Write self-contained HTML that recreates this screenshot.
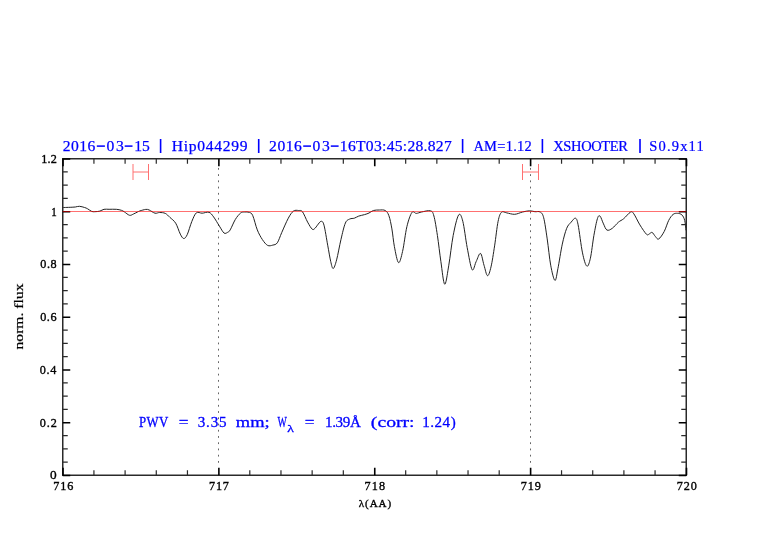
<!DOCTYPE html>
<html><head><meta charset="utf-8"><style>
html,body{margin:0;padding:0;background:#fff;}
svg{display:block;will-change:transform;}
text{font-variant-ligatures:none;}
</style></head><body>
<svg width="782" height="542" viewBox="0 0 782 542">
<rect width="782" height="542" fill="#fff"/>
<text x="62.70" y="150.55" textLength="32.65" lengthAdjust="spacing" font-family='"Liberation Serif", serif' font-size="15.6" fill="#0000ff" stroke="#0000ff" stroke-width="0.25">2016</text>
<text x="106.50" y="150.55" textLength="17.30" lengthAdjust="spacing" font-family='"Liberation Serif", serif' font-size="15.6" fill="#0000ff" stroke="#0000ff" stroke-width="0.25">03</text>
<text x="134.15" y="150.55" textLength="15.55" lengthAdjust="spacing" font-family='"Liberation Serif", serif' font-size="15.6" fill="#0000ff" stroke="#0000ff" stroke-width="0.25">15</text>
<text x="171.75" y="150.55" textLength="75.75" lengthAdjust="spacing" font-family='"Liberation Serif", serif' font-size="15.6" fill="#0000ff" stroke="#0000ff" stroke-width="0.25">Hip044299</text>
<text x="269.10" y="150.55" textLength="32.75" lengthAdjust="spacing" font-family='"Liberation Serif", serif' font-size="15.6" fill="#0000ff" stroke="#0000ff" stroke-width="0.25">2016</text>
<text x="312.60" y="150.55" textLength="17.30" lengthAdjust="spacing" font-family='"Liberation Serif", serif' font-size="15.6" fill="#0000ff" stroke="#0000ff" stroke-width="0.25">03</text>
<text x="339.85" y="150.55" textLength="111.90" lengthAdjust="spacing" font-family='"Liberation Serif", serif' font-size="15.6" fill="#0000ff" stroke="#0000ff" stroke-width="0.25">16T03:45:28.827</text>
<text transform="translate(473.40,150.55) scale(0.93,1)" x="0" y="0" textLength="62.74" lengthAdjust="spacing" font-family='"Liberation Serif", serif' font-size="15.6" fill="#0000ff" stroke="#0000ff" stroke-width="0.25">AM=1.12</text>
<text transform="translate(553.25,150.55) scale(0.93,1)" x="0" y="0" textLength="80.38" lengthAdjust="spacing" font-family='"Liberation Serif", serif' font-size="15.6" fill="#0000ff" stroke="#0000ff" stroke-width="0.25">XSHOOTER</text>
<text transform="translate(649.25,150.55) scale(0.93,1)" x="0" y="0" textLength="58.60" lengthAdjust="spacing" font-family='"Liberation Serif", serif' font-size="15.6" fill="#0000ff" stroke="#0000ff" stroke-width="0.25">S0.9x11</text>
<text x="41.30" y="162.95" textLength="15.50" lengthAdjust="spacing" font-family='"Liberation Serif", serif' font-size="12.2" fill="#000000" stroke="#000000" stroke-width="0.35">1.2</text>
<text transform="translate(51.15,215.70) scale(0.902,1)" x="0" y="0" font-family='"Liberation Serif", serif' font-size="12.2" fill="#000000" stroke="#000000" stroke-width="0.35">1</text>
<text x="40.25" y="268.45" textLength="16.30" lengthAdjust="spacing" font-family='"Liberation Serif", serif' font-size="12.2" fill="#000000" stroke="#000000" stroke-width="0.35">0.8</text>
<text x="40.15" y="321.20" textLength="16.40" lengthAdjust="spacing" font-family='"Liberation Serif", serif' font-size="12.2" fill="#000000" stroke="#000000" stroke-width="0.35">0.6</text>
<text x="39.75" y="373.95" textLength="16.55" lengthAdjust="spacing" font-family='"Liberation Serif", serif' font-size="12.2" fill="#000000" stroke="#000000" stroke-width="0.35">0.4</text>
<text x="39.75" y="426.70" textLength="17.05" lengthAdjust="spacing" font-family='"Liberation Serif", serif' font-size="12.2" fill="#000000" stroke="#000000" stroke-width="0.35">0.2</text>
<text transform="translate(49.95,479.45) scale(1.092,1)" x="0" y="0" font-family='"Liberation Serif", serif' font-size="12.2" fill="#000000" stroke="#000000" stroke-width="0.35">0</text>
<text x="53.25" y="490.25" textLength="20.00" lengthAdjust="spacing" font-family='"Liberation Serif", serif' font-size="12.2" fill="#000000" stroke="#000000" stroke-width="0.35">716</text>
<text x="209.05" y="490.25" textLength="19.80" lengthAdjust="spacing" font-family='"Liberation Serif", serif' font-size="12.2" fill="#000000" stroke="#000000" stroke-width="0.35">717</text>
<text x="364.45" y="490.25" textLength="20.70" lengthAdjust="spacing" font-family='"Liberation Serif", serif' font-size="12.2" fill="#000000" stroke="#000000" stroke-width="0.35">718</text>
<text x="520.75" y="490.25" textLength="20.20" lengthAdjust="spacing" font-family='"Liberation Serif", serif' font-size="12.2" fill="#000000" stroke="#000000" stroke-width="0.35">719</text>
<text x="676.75" y="490.25" textLength="20.20" lengthAdjust="spacing" font-family='"Liberation Serif", serif' font-size="12.2" fill="#000000" stroke="#000000" stroke-width="0.35">720</text>
<text x="358.80" y="506.55" textLength="32.25" lengthAdjust="spacing" font-family='"Liberation Serif", serif' font-size="11" fill="#000000" stroke="#000000" stroke-width="0.35">λ(AA)</text>
<text transform="translate(138.95,427.40) scale(0.85,1)" x="0" y="0" textLength="34.41" lengthAdjust="spacing" font-family='"Liberation Serif", serif' font-size="15.1" fill="#0000ff" stroke="#0000ff" stroke-width="0.3">PWV</text>
<text transform="translate(178.75,427.40) scale(1.140,1)" x="0" y="0" font-family='"Liberation Serif", serif' font-size="15.1" fill="#0000ff" stroke="#0000ff" stroke-width="0.3">=</text>
<text x="197.80" y="427.40" textLength="28.70" lengthAdjust="spacing" font-family='"Liberation Serif", serif' font-size="15.1" fill="#0000ff" stroke="#0000ff" stroke-width="0.3">3.35</text>
<text x="235.85" y="427.40" textLength="33.80" lengthAdjust="spacingAndGlyphs" font-family='"Liberation Serif", serif' font-size="15.1" fill="#0000ff" stroke="#0000ff" stroke-width="0.3">mm;</text>
<text transform="translate(277.60,427.40) scale(0.656,1)" x="0" y="0" font-family='"Liberation Serif", serif' font-size="15.1" fill="#0000ff" stroke="#0000ff" stroke-width="0.3">W</text>
<text transform="translate(304.65,427.40) scale(1.141,1)" x="0" y="0" font-family='"Liberation Serif", serif' font-size="15.1" fill="#0000ff" stroke="#0000ff" stroke-width="0.3">=</text>
<text x="325.05" y="427.40" textLength="35.75" lengthAdjust="spacing" font-family='"Liberation Serif", serif' font-size="15.1" fill="#0000ff" stroke="#0000ff" stroke-width="0.3">1.39Å</text>
<text x="370.85" y="427.40" textLength="43.75" lengthAdjust="spacingAndGlyphs" font-family='"Liberation Serif", serif' font-size="15.1" fill="#0000ff" stroke="#0000ff" stroke-width="0.3">(corr:</text>
<text x="422.25" y="427.40" textLength="33.45" lengthAdjust="spacing" font-family='"Liberation Serif", serif' font-size="15.1" fill="#0000ff" stroke="#0000ff" stroke-width="0.3">1.24)</text>
<text transform="translate(287.25,431.50) scale(1.302,1)" x="0" y="0" font-family='"Liberation Serif", serif' font-size="10.5" fill="#0000ff" stroke="#0000ff" stroke-width="0.3">λ</text>
<rect x="159.80" y="139" width="1.6" height="14" fill="#0000ff"/><rect x="257.90" y="139" width="1.6" height="14" fill="#0000ff"/><rect x="461.80" y="139" width="1.6" height="14" fill="#0000ff"/><rect x="541.60" y="139" width="1.6" height="14" fill="#0000ff"/><rect x="639.20" y="139" width="1.6" height="14" fill="#0000ff"/><rect x="96.8" y="145.35" width="8.10" height="1.5" fill="#0000ff"/><rect x="124.7" y="145.35" width="7.80" height="1.5" fill="#0000ff"/><rect x="303.2" y="145.35" width="7.80" height="1.5" fill="#0000ff"/><rect x="330.8" y="145.35" width="7.80" height="1.5" fill="#0000ff"/>
<path d="M133,164v16M148.5,164v16M133,172h15.5M522.5,164v16M538.5,164v16M522.5,172h16" fill="none" stroke-width="1" stroke="#ff7070"/>
<g stroke="#666" stroke-width="1" stroke-dasharray="1.8 4.435">
<line x1="218.5" y1="167.95" x2="218.5" y2="463"/>
<line x1="530.5" y1="167.95" x2="530.5" y2="463"/>
</g>
<path d="M62.50,207.60 C62.77,207.58 62.82,207.55 64.10,207.50 C65.38,207.45 68.33,207.38 70.20,207.30 C72.07,207.22 73.77,207.17 75.30,207.00 C76.83,206.83 77.85,206.22 79.40,206.30 C80.95,206.38 83.23,207.08 84.60,207.50 C85.97,207.92 86.42,208.15 87.60,208.80 C88.78,209.45 90.50,210.92 91.70,211.40 C92.90,211.88 93.43,211.75 94.80,211.70 C96.17,211.65 98.37,211.50 99.90,211.10 C101.43,210.70 102.47,209.60 104.00,209.30 C105.53,209.00 107.05,209.30 109.10,209.30 C111.15,209.30 114.25,209.13 116.30,209.30 C118.35,209.47 120.05,209.87 121.40,210.30 C122.75,210.73 123.03,211.07 124.40,211.90 C125.77,212.73 128.05,214.97 129.60,215.30 C131.15,215.63 132.35,214.47 133.70,213.90 C135.05,213.33 136.65,212.40 137.70,211.90 C138.75,211.40 138.66,211.32 140.00,210.90 C141.34,210.48 144.22,209.55 145.75,209.40 C147.28,209.25 147.66,209.37 149.20,210.00 C150.74,210.63 153.27,212.78 155.00,213.20 C156.73,213.62 157.88,212.47 159.60,212.50 C161.32,212.53 163.58,212.58 165.30,213.40 C167.02,214.22 168.17,215.77 169.90,217.40 C171.63,219.03 173.97,220.42 175.70,223.20 C177.43,225.98 178.97,231.55 180.30,234.10 C181.63,236.65 182.55,238.40 183.70,238.50 C184.85,238.60 185.85,237.53 187.20,234.70 C188.55,231.87 190.27,225.15 191.80,221.50 C193.33,217.85 194.68,214.18 196.40,212.80 C198.12,211.42 200.00,213.28 202.10,213.20 C204.20,213.12 207.08,211.68 209.00,212.30 C210.92,212.92 211.87,214.60 213.60,216.90 C215.33,219.20 217.67,223.42 219.40,226.10 C221.13,228.78 222.65,231.95 224.00,233.00 C225.35,234.05 226.47,232.92 227.50,232.40 C228.53,231.88 228.90,232.05 230.20,229.90 C231.50,227.75 233.58,222.30 235.30,219.50 C237.02,216.70 238.98,214.35 240.50,213.10 C242.02,211.85 242.90,212.12 244.40,212.00 C245.90,211.88 248.10,211.78 249.50,212.40 C250.90,213.02 251.50,212.78 252.80,215.70 C254.10,218.62 255.70,225.92 257.30,229.90 C258.90,233.88 260.68,237.02 262.40,239.60 C264.12,242.18 265.87,244.48 267.60,245.40 C269.33,246.32 271.18,245.53 272.80,245.10 C274.42,244.67 275.80,244.92 277.30,242.80 C278.80,240.68 279.97,236.50 281.80,232.40 C283.63,228.30 286.37,221.75 288.30,218.20 C290.23,214.65 291.68,212.38 293.40,211.10 C295.12,209.82 297.08,210.38 298.60,210.50 C300.12,210.62 301.00,209.87 302.50,211.80 C304.00,213.73 305.98,219.20 307.60,222.10 C309.22,225.00 310.97,228.17 312.20,229.20 C313.43,230.23 314.13,228.97 315.00,228.30 C315.87,227.63 316.38,226.37 317.40,225.20 C318.42,224.03 320.00,221.30 321.10,221.30 C322.20,221.30 322.90,221.22 324.00,225.20 C325.10,229.18 326.58,239.17 327.70,245.20 C328.82,251.23 329.78,257.52 330.70,261.40 C331.62,265.28 332.22,268.75 333.20,268.50 C334.18,268.25 335.30,264.77 336.60,259.90 C337.90,255.03 339.53,245.45 341.00,239.30 C342.47,233.15 343.93,226.38 345.40,223.00 C346.87,219.62 348.32,219.80 349.80,219.00 C351.28,218.20 352.82,218.68 354.30,218.20 C355.78,217.72 356.98,216.70 358.70,216.10 C360.42,215.50 362.88,215.12 364.60,214.60 C366.32,214.08 367.53,213.68 369.00,213.00 C370.47,212.32 371.68,211.00 373.40,210.50 C375.12,210.00 377.33,210.00 379.30,210.00 C381.27,210.00 383.60,209.55 385.20,210.50 C386.80,211.45 387.78,212.63 388.90,215.70 C390.02,218.77 390.98,223.75 391.90,228.90 C392.82,234.05 393.30,240.98 394.40,246.60 C395.50,252.22 397.13,261.82 398.50,262.60 C399.87,263.38 401.20,257.30 402.60,251.30 C404.00,245.30 405.35,233.07 406.90,226.60 C408.45,220.13 410.33,214.70 411.90,212.50 C413.47,210.30 414.68,213.48 416.30,213.40 C417.92,213.32 419.25,212.43 421.60,212.00 C423.95,211.57 428.35,210.13 430.40,210.80 C432.45,211.47 432.73,211.90 433.90,216.00 C435.07,220.10 436.23,227.78 437.40,235.40 C438.57,243.02 439.68,253.57 440.90,261.70 C442.12,269.83 443.38,283.62 444.70,284.20 C446.02,284.78 447.38,273.33 448.80,265.20 C450.22,257.07 451.57,243.77 453.20,235.40 C454.83,227.03 457.00,217.35 458.60,215.00 C460.20,212.65 461.37,215.87 462.80,221.30 C464.23,226.73 465.65,239.55 467.20,247.60 C468.75,255.65 470.62,267.25 472.10,269.60 C473.58,271.95 474.70,264.40 476.10,261.70 C477.50,259.00 479.18,252.82 480.50,253.40 C481.82,253.98 482.83,261.48 484.00,265.20 C485.17,268.92 486.33,275.42 487.50,275.70 C488.67,275.98 489.82,271.87 491.00,266.90 C492.18,261.93 493.42,253.50 494.60,245.90 C495.78,238.30 496.93,226.92 498.10,221.30 C499.27,215.68 500.15,213.60 501.60,212.20 C503.05,210.80 504.62,212.55 506.80,212.90 C508.98,213.25 512.07,214.45 514.70,214.30 C517.33,214.15 520.12,212.58 522.60,212.00 C525.08,211.42 527.55,210.85 529.60,210.80 C531.65,210.75 533.13,211.50 534.90,211.70 C536.67,211.90 538.73,210.98 540.20,212.00 C541.67,213.02 542.53,213.32 543.70,217.80 C544.87,222.28 546.03,231.00 547.20,238.90 C548.37,246.80 549.42,258.28 550.70,265.20 C551.98,272.12 553.70,279.82 554.90,280.40 C556.10,280.98 556.67,274.75 557.90,268.70 C559.13,262.65 560.83,250.83 562.30,244.10 C563.77,237.37 565.23,231.95 566.70,228.30 C568.17,224.65 569.65,223.88 571.10,222.20 C572.55,220.52 574.23,217.77 575.40,218.20 C576.57,218.63 576.92,219.02 578.10,224.80 C579.28,230.58 581.05,246.02 582.50,252.90 C583.95,259.78 585.48,265.22 586.80,266.10 C588.12,266.98 589.22,263.32 590.40,258.20 C591.58,253.08 592.73,241.98 593.90,235.40 C595.07,228.82 596.38,221.92 597.40,218.70 C598.42,215.48 598.98,215.23 600.00,216.10 C601.02,216.97 602.33,221.57 603.50,223.90 C604.67,226.23 605.53,229.37 607.00,230.10 C608.47,230.83 610.40,229.62 612.30,228.30 C614.20,226.98 616.50,223.80 618.40,222.20 C620.30,220.60 621.68,220.38 623.70,218.70 C625.72,217.02 628.82,212.92 630.50,212.10 C632.18,211.28 632.23,211.67 633.80,213.80 C635.37,215.93 637.78,221.48 639.90,224.90 C642.02,228.32 644.93,232.80 646.50,234.30 C648.07,235.80 648.37,234.22 649.30,233.90 C650.23,233.58 651.08,231.97 652.10,232.40 C653.12,232.83 654.30,235.40 655.40,236.50 C656.50,237.60 657.23,239.83 658.70,239.00 C660.17,238.17 662.53,234.60 664.20,231.50 C665.87,228.40 667.22,223.25 668.70,220.40 C670.18,217.55 671.63,215.58 673.10,214.40 C674.57,213.22 676.03,213.22 677.50,213.30 C678.97,213.38 680.70,213.72 681.90,214.90 C683.10,216.08 684.02,217.82 684.70,220.40 C685.38,222.98 685.78,228.73 686.00,230.40" fill="none" stroke="#222" stroke-width="1"/>
<rect x="62.75" y="158.75" width="623.5" height="316.5" fill="none" stroke="#2a2a2a" stroke-width="1.5"/>
<path d="M93.93,475.25v-5M93.93,158.75v5M125.10,475.25v-5M125.10,158.75v5M156.28,475.25v-5M156.28,158.75v5M187.45,475.25v-5M187.45,158.75v5M249.80,475.25v-5M249.80,158.75v5M280.97,475.25v-5M280.97,158.75v5M312.15,475.25v-5M312.15,158.75v5M343.32,475.25v-5M343.32,158.75v5M405.68,475.25v-5M405.68,158.75v5M436.85,475.25v-5M436.85,158.75v5M468.03,475.25v-5M468.03,158.75v5M499.20,475.25v-5M499.20,158.75v5M561.55,475.25v-5M561.55,158.75v5M592.72,475.25v-5M592.72,158.75v5M623.90,475.25v-5M623.90,158.75v5M655.07,475.25v-5M655.07,158.75v5M62.75,462.06h5M686.25,462.06h-5M62.75,448.88h5M686.25,448.88h-5M62.75,435.69h5M686.25,435.69h-5M62.75,409.31h5M686.25,409.31h-5M62.75,396.12h5M686.25,396.12h-5M62.75,382.94h5M686.25,382.94h-5M62.75,356.56h5M686.25,356.56h-5M62.75,343.38h5M686.25,343.38h-5M62.75,330.19h5M686.25,330.19h-5M62.75,303.81h5M686.25,303.81h-5M62.75,290.62h5M686.25,290.62h-5M62.75,277.44h5M686.25,277.44h-5M62.75,251.06h5M686.25,251.06h-5M62.75,237.88h5M686.25,237.88h-5M62.75,224.69h5M686.25,224.69h-5M62.75,198.31h5M686.25,198.31h-5M62.75,185.12h5M686.25,185.12h-5M62.75,171.94h5M686.25,171.94h-5" stroke="#2a2a2a" stroke-width="1.2" fill="none"/>
<path d="M63.00,475.25v-7.5M63.00,158.75v7.5M218.88,475.25v-7.5M218.88,158.75v7.5M374.75,475.25v-7.5M374.75,158.75v7.5M530.62,475.25v-7.5M530.62,158.75v7.5M686.50,475.25v-7.5M686.50,158.75v7.5M62.75,475.50h7.5M686.25,475.50h-7.5M62.75,422.75h7.5M686.25,422.75h-7.5M62.75,370.00h7.5M686.25,370.00h-7.5M62.75,317.25h7.5M686.25,317.25h-7.5M62.75,264.50h7.5M686.25,264.50h-7.5M62.75,211.75h7.5M686.25,211.75h-7.5M62.75,159.00h7.5M686.25,159.00h-7.5" stroke="#000" stroke-width="1.6" fill="none"/>
<line x1="62.75" y1="211.5" x2="686.25" y2="211.5" stroke-width="1" stroke="#ff0000" stroke-opacity="0.56"/>
<text transform="translate(23,316.5) rotate(-90)" x="-33" y="0" textLength="66" lengthAdjust="spacingAndGlyphs" font-family='"Liberation Serif", serif' font-size="12.8" fill="#000" stroke="#000" stroke-width="0.2" style="font-variant-ligatures:none">norm. flux</text>
</svg>
</body></html>
